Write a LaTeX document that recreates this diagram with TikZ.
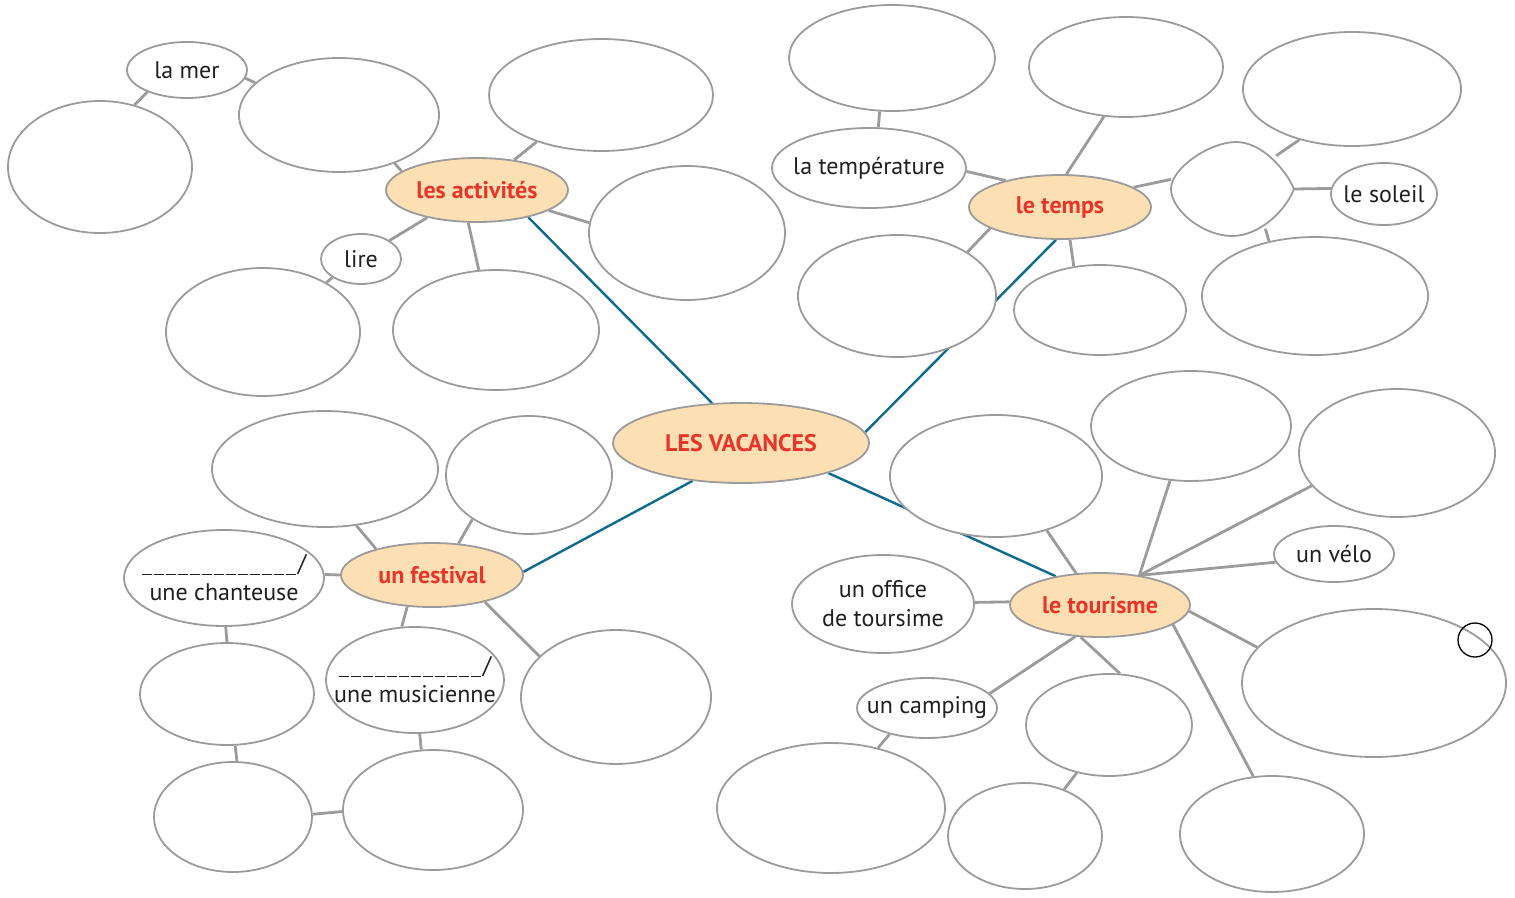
\documentclass[tikz,border=0pt]{standalone}
\usepackage{fontspec}
\setmainfont{PT Sans}
\usetikzlibrary{shapes.geometric,backgrounds}
\definecolor{lgrey}{HTML}{9B9B9B}
\definecolor{vblue}{HTML}{0F6A8F}
\definecolor{peach}{HTML}{FCDFB3}
\definecolor{tred}{HTML}{E8352B}
\definecolor{tblack}{HTML}{231F20}
\newcommand{\bb}[7][bub]{\node[#1, minimum width=#5*2, minimum height=#6*2, label={[#1txt]center:{#7}}] (#2) at (#3,#4) {};}
\newcommand{\blank}[1]{\foreach \i in {1,...,#1}{\rule[-3pt]{10pt}{1.3pt}\hspace{2pt}}/}
\begin{document}
\begin{tikzpicture}[x=1pt,y=-1pt,
  bub/.style={ellipse, draw=lgrey, line width=1.8pt, fill=white, inner sep=0pt},
  key/.style={bub, fill=peach},
  bubtxt/.style={inner sep=0pt, text=tblack, font=\fontsize{24}{29}\selectfont, align=center},
  keytxt/.style={inner sep=0pt, text=tred, font=\fontsize{24}{29}\selectfont\bfseries, align=center},
  link/.style={draw=lgrey, line width=2.8pt},
  mainlink/.style={draw=vblue, line width=2.4pt}]
\useasboundingbox (0,0) rectangle (1515,897);
% top left
\bb{mer}{187}{70}{60}{28}{la mer}
\bb{e1}{100}{167}{92}{66}{}
\bb{e2}{339}{115}{100}{57}{}
\bb{e3}{601}{95}{112}{56}{}
\bb[key]{act}{477}{190}{91}{32}{les activités}
\bb{e4}{687}{233}{98}{67}{}
\bb{lire}{361}{259}{40}{25}{lire}
\bb{e5}{263}{332}{97}{64}{}
\bb{e6}{496}{330}{103}{60}{}
% top right
\bb{e7}{892}{58}{103}{53}{}
\bb{e8}{1126}{67}{97}{50}{}
\bb{e9}{1352}{89}{109}{57}{}
\bb{temp}{869}{168}{97}{40}{la température}
\bb[key]{temps}{1060}{207}{91}{32}{le temps}
\node[ellipse, minimum width=124, minimum height=94, inner sep=0pt] (blob) at (1232,189) {};
\draw[draw=lgrey, line width=1.8pt, fill=white] (1171,189) .. controls (1171,168) and (1210,142) .. (1236,142) .. controls (1262,142) and (1286,170) .. (1294,189) .. controls (1286,210) and (1260,236) .. (1232,236) .. controls (1203,236) and (1171,210) .. (1171,189) -- cycle;
\bb{soleil}{1384}{194}{53}{31}{le soleil}
\bb{e10}{897}{296}{99}{61}{}
\bb{e11}{1100}{310}{86}{45}{}
\bb{e12}{1315}{296}{113}{59}{}
% centre
\bb[key]{vac}{741}{443}{128}{40}{LES VACANCES}
% bottom left
\bb{e13}{325}{469}{113}{58}{}
\bb{e14}{529}{475}{83}{59}{}
\bb{chant}{224}{578}{100}{48}{\blank{13}\\une chanteuse}
\bb[key]{fest}{432}{575}{91}{32}{un festival}
\bb{e15}{227}{694}{87}{51}{}
\bb{musi}{415}{680}{89}{53}{\blank{12}\\une musicienne}
\bb{e16}{616}{697}{95}{67}{}
\bb{e17}{233}{817}{79}{55}{}
\bb{e18}{433}{810}{90}{60}{}
% bottom right
\bb{e19}{996}{476}{106}{61}{}
\bb{e20}{1191}{426}{100}{55}{}
\bb{e21}{1397}{453}{98}{64}{}
\bb{velo}{1334}{554}{60}{28}{un vélo}
\bb{office}{883}{604}{91}{49}{un office\\de toursime}
\bb[key]{tour}{1100}{605}{90}{32}{le tourisme}
\bb{e22}{1374}{683}{132}{74}{}
\bb{camp}{927}{708}{70}{30}{un camping}
\bb{e23}{1109}{725}{83}{51}{}
\bb{e24}{831}{808}{114}{65}{}
\bb{e25}{1025}{836}{77}{53}{}
\bb{e26}{1272}{834}{92}{58}{}
\node[circle, draw=black, line width=1.3pt, minimum size=34, inner sep=0pt] (ring) at (1475,640) {};
\begin{scope}[on background layer]
\draw[link] (mer.209) -- (e1.61);
\draw[link] (mer.-8) -- (e2.159);
\draw[link] (e2.-41) -- (act.166);
\draw[link] (e3.216) -- (act.39);
\draw[link] (act.-16) -- (e4.174);
\draw[link] (act.209) -- (lire.33);
\draw[link] (act.255) -- (e6.106);
\draw[link] (lire.213) -- (e5.38);
\draw[link] (temp.77) -- (e7.257);
\draw[link] (temp.-2) -- (temps.154);
\draw[link] (temps.79) -- (e8.246);
\draw[link] (temps.15) -- (blob.171);
\draw[link] (blob.37) -- (e9.224);
\draw[link] (blob.0) -- (soleil.174);
\draw[link] (blob.-50) -- (e12.130);
\draw[link] (temps.197) -- (e10.32);
\draw[link] (temps.-73) -- (e11.121);
\draw[link] (chant.2) -- (fest.180);
\draw[link] (e13.-61) -- (fest.155);
\draw[link] (e14.218) -- (fest.50);
\draw[link] (fest.232) -- (musi.104);
\draw[link] (fest.-27) -- (e16.152);
\draw[link] (chant.-88) -- (e15.90);
\draw[link] (e15.-81) -- (e17.86);
\draw[link] (musi.-85) -- (e18.101);
\draw[link] (e17.2) -- (e18.181);
\draw[link] (tour.178) -- (office.1);
\draw[link] (tour.127) -- (e19.-47);
\draw[link] (tour.37) -- (e20.249);
\draw[link] (tour.37) -- (e21.201);
\draw[link] (tour.37) -- (velo.188);
\draw[link] (tour.-4) -- (e22.163);
\draw[link] (tour.-15) -- (e26.108);
\draw[link] (tour.239) -- (e23.78);
\draw[link] (tour.232) -- (camp.13);
\draw[link] (camp.215) -- (e24.52);
\draw[link] (e23.236) -- (e25.50);
\draw[mainlink] (vac.126) -- (act.-28);
\draw[mainlink] (vac.5) -- (temps.263);
\draw[mainlink] (vac.218) -- (fest.2);
\draw[mainlink] (vac.-19) -- (tour.147);
\end{scope}
\end{tikzpicture}
\end{document}
